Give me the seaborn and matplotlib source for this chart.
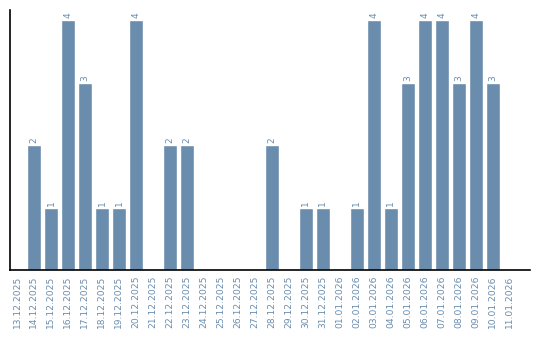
import matplotlib
matplotlib.use("Agg")
import matplotlib.pyplot as plt
import seaborn as sns
import pandas as pd

dates = ["13.12.2025", "14.12.2025", "15.12.2025", "16.12.2025", "17.12.2025",
         "18.12.2025", "19.12.2025", "20.12.2025", "21.12.2025", "22.12.2025",
         "23.12.2025", "24.12.2025", "25.12.2025", "26.12.2025", "27.12.2025",
         "28.12.2025", "29.12.2025", "30.12.2025", "31.12.2025", "01.01.2026",
         "02.01.2026", "03.01.2026", "04.01.2026", "05.01.2026", "06.01.2026",
         "07.01.2026", "08.01.2026", "09.01.2026", "10.01.2026", "11.01.2026"]
counts = [0, 2, 1, 4, 3, 1, 1, 4, 0, 2,
          2, 0, 0, 0, 0, 2, 0, 1, 1, 0,
          1, 4, 1, 3, 4, 4, 3, 4, 3, 0]

df = pd.DataFrame({"date": dates, "count": counts})

sns.set_style("white")
plt.rcParams['font.family'] = ['DejaVu Sans']

color = "#6a8cad"
fig = plt.figure(figsize=(5.4, 3.4), dpi=100)
ax = fig.add_axes([10/540, 70/340, 520/540, 260/340])
sns.barplot(data=df, x="date", y="count", color=color, saturation=1,
            width=0.82, ax=ax)

for i, v in enumerate(counts):
    if v > 0:
        ax.text(i, v + 0.03, str(v), rotation=90, ha="center", va="bottom",
                fontsize=6.5, color=color)

ax.set_xlim(-0.41, len(dates) + 0.18)
ax.set_ylim(0, 4.16)
ax.set_yticks([])
ax.set_xlabel("")
ax.set_ylabel("")
ax.tick_params(axis="x", length=0, pad=4, labelsize=6.6, labelcolor=color)
plt.setp(ax.get_xticklabels(), rotation=90)
for s in ["top", "right"]:
    ax.spines[s].set_visible(False)
for s in ["left", "bottom"]:
    ax.spines[s].set_color("black")
    ax.spines[s].set_linewidth(1.2)

fig.savefig("out.png", dpi=100)
